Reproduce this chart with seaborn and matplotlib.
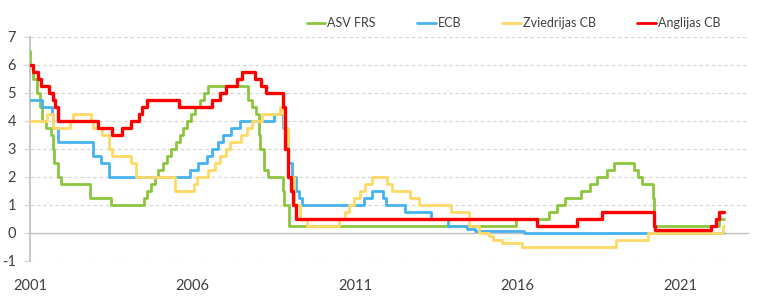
import matplotlib
matplotlib.use("Agg")
import matplotlib.pyplot as plt
import matplotlib.dates as mdates
from matplotlib.lines import Line2D
import seaborn as sns
import pandas as pd

# ---------------- data ----------------
end_date = "2022-05-03"

fed_dates = ["2001-01-01", "2001-01-03", "2001-01-31", "2001-03-20", "2001-04-18", "2001-05-15",
             "2001-06-27", "2001-08-21", "2001-09-17", "2001-10-02", "2001-11-06", "2001-12-11",
             "2002-11-06", "2003-06-25", "2004-06-30", "2004-08-10", "2004-09-21", "2004-11-10",
             "2004-12-14", "2005-02-02", "2005-03-22", "2005-05-03", "2005-06-30", "2005-08-09",
             "2005-09-20", "2005-11-01", "2005-12-13", "2006-01-31", "2006-03-28", "2006-05-10",
             "2006-06-29", "2007-09-18", "2007-10-31", "2007-12-11", "2008-01-22", "2008-01-30",
             "2008-03-18", "2008-04-30", "2008-10-08", "2008-10-29", "2008-12-16", "2015-12-16",
             "2016-12-14", "2017-03-15", "2017-06-14", "2017-12-13", "2018-03-21", "2018-06-13",
             "2018-09-26", "2018-12-19", "2019-07-31", "2019-09-18", "2019-10-30", "2020-03-03",
             "2020-03-15", "2022-03-16"]
fed_rates = [6.5, 6.0, 5.5, 5.0, 4.5, 4.0, 3.75, 3.5, 3.0, 2.5, 2.0, 1.75,
             1.25, 1.0, 1.25, 1.5, 1.75, 2.0, 2.25, 2.5, 2.75, 3.0, 3.25, 3.5,
             3.75, 4.0, 4.25, 4.5, 4.75, 5.0, 5.25, 4.75, 4.5, 4.25, 3.5, 3.0,
             2.25, 2.0, 1.5, 1.0, 0.25, 0.5, 0.75, 1.0, 1.25, 1.5, 1.75, 2.0,
             2.25, 2.5, 2.25, 2.0, 1.75, 1.25, 0.25, 0.5]

ecb_dates = ["2001-01-01", "2001-05-11", "2001-08-31", "2001-09-18", "2001-11-09", "2002-12-06",
             "2003-03-07", "2003-06-06", "2005-12-06", "2006-03-08", "2006-06-15", "2006-08-09",
             "2006-10-11", "2006-12-13", "2007-03-14", "2007-06-13", "2008-07-09", "2008-10-15",
             "2008-11-12", "2008-12-10", "2009-01-21", "2009-03-11", "2009-04-08", "2009-05-13",
             "2011-04-13", "2011-07-13", "2011-11-09", "2011-12-14", "2012-07-11", "2013-05-08",
             "2013-11-13", "2014-06-11", "2014-09-10", "2016-03-16"]
ecb_rates = [4.75, 4.5, 4.25, 3.75, 3.25, 2.75, 2.5, 2.0, 2.25, 2.5, 2.75, 3.0,
             3.25, 3.5, 3.75, 4.0, 4.25, 3.75, 3.25, 2.5, 2.0, 1.5, 1.25, 1.0,
             1.25, 1.5, 1.25, 1.0, 0.75, 0.5, 0.25, 0.15, 0.05, 0.0]

rb_dates = ["2001-01-01", "2001-07-11", "2001-09-19", "2002-03-25", "2002-04-30", "2002-11-20",
            "2002-12-11", "2003-03-19", "2003-06-11", "2003-07-09", "2004-02-11", "2004-04-07",
            "2005-06-22", "2006-01-20", "2006-02-24", "2006-06-28", "2006-09-06", "2006-10-31",
            "2007-01-17", "2007-02-21", "2007-06-27", "2007-09-07", "2007-10-31", "2008-02-20",
            "2008-09-10", "2008-10-08", "2008-10-29", "2008-12-10", "2009-02-16", "2009-04-27",
            "2009-07-08", "2010-07-07", "2010-09-07", "2010-10-27", "2010-12-21", "2011-02-22",
            "2011-04-27", "2011-07-06", "2011-12-21", "2012-02-21", "2012-09-12", "2012-12-19",
            "2013-12-18", "2014-07-09", "2014-10-29", "2015-02-18", "2015-03-25", "2015-07-08",
            "2016-02-17", "2019-01-09", "2020-01-08", "2022-04-28"]
rb_rates = [4.0, 4.25, 3.75, 4.0, 4.25, 4.0, 3.75, 3.5, 3.0, 2.75, 2.5, 2.0,
            1.5, 1.75, 2.0, 2.25, 2.5, 2.75, 3.0, 3.25, 3.5, 3.75, 4.0, 4.25,
            4.5, 4.25, 3.75, 2.0, 1.0, 0.5, 0.25, 0.5, 0.75, 1.0, 1.25, 1.5,
            1.75, 2.0, 1.75, 1.5, 1.25, 1.0, 0.75, 0.25, 0.0, -0.1, -0.25, -0.35,
            -0.5, -0.25, 0.0, 0.25]

boe_dates = ["2001-01-01", "2001-02-08", "2001-04-05", "2001-05-10", "2001-08-02", "2001-09-18",
             "2001-10-04", "2001-11-08", "2003-02-06", "2003-07-10", "2003-11-06", "2004-02-05",
             "2004-05-06", "2004-06-10", "2004-08-05", "2005-08-04", "2006-08-03", "2006-11-09",
             "2007-01-11", "2007-05-10", "2007-07-05", "2007-12-06", "2008-02-07", "2008-04-10",
             "2008-10-08", "2008-11-06", "2008-12-04", "2009-01-08", "2009-02-05", "2009-03-05",
             "2016-08-04", "2017-11-02", "2018-08-02", "2020-03-11", "2020-03-19", "2021-12-16",
             "2022-02-03", "2022-03-17"]
boe_rates = [6.0, 5.75, 5.5, 5.25, 5.0, 4.75, 4.5, 4.0, 3.75, 3.5, 3.75, 4.0,
             4.25, 4.5, 4.75, 4.5, 4.75, 5.0, 5.25, 5.5, 5.75, 5.5, 5.25, 5.0,
             4.5, 3.0, 2.0, 1.5, 1.0, 0.5, 0.25, 0.5, 0.75, 0.25, 0.1, 0.25,
             0.5, 0.75]

series_names = ["ASV FRS", "ECB", "Zviedrijas CB", "Anglijas CB"]
year_ticks = ["2001", "2006", "2011", "2016", "2021"]
y_ticks = [-1, 0, 1, 2, 3, 4, 5, 6, 7]

# ---------------- build frame ----------------
frames = []
for name, d, r in zip(series_names,
                      [fed_dates, ecb_dates, rb_dates, boe_dates],
                      [fed_rates, ecb_rates, rb_rates, boe_rates]):
    dd = list(d) + [end_date]
    rr = list(r) + [r[-1]]
    frames.append(pd.DataFrame({"date": pd.to_datetime(dd), "rate": rr, "bank": name}))
df = pd.concat(frames, ignore_index=True)

colors = {"ASV FRS": "#8CC63F", "ECB": "#45B3EE", "Zviedrijas CB": "#FFD966", "Anglijas CB": "#FF0000"}
widths = {"ASV FRS": 2.0, "ECB": 2.0, "Zviedrijas CB": 2.0, "Anglijas CB": 2.4}

# ---------------- plot ----------------
sns.set_theme(style="white")
plt.rcParams["font.family"] = ["Lato", "DejaVu Sans"]
plt.rcParams["axes.unicode_minus"] = False

fig = plt.figure(figsize=(7.64, 3.06), dpi=100)
ax = fig.add_axes([30 / 764, 1 - 260.7 / 306, (748 - 30) / 764, (260.7 - 36.7) / 306])

for y in y_ticks:
    if y != 0:
        ax.axhline(y, color="#d9d9d9", lw=0.9, ls=(0, (3, 2)), zorder=0)

for name in series_names:
    sub = df[df["bank"] == name]
    sns.lineplot(data=sub, x="date", y="rate", ax=ax, color=colors[name],
                 lw=widths[name], drawstyle="steps-post", legend=False, zorder=3)

ax.set_xlim(pd.Timestamp("2001-01-01"), pd.Timestamp("2023-02-01"))
ax.set_ylim(-1, 7)
ax.set_yticks(y_ticks)
ax.set_yticklabels([str(v) for v in y_ticks])
ax.set_xticks([pd.Timestamp(f"{y}-01-01") for y in year_ticks])
ax.set_xticklabels(year_ticks)
ax.set_xlabel("")
ax.set_ylabel("")

for s in ["top", "right"]:
    ax.spines[s].set_visible(False)
ax.spines["left"].set_color("#bfbfbf")
ax.spines["left"].set_linewidth(1.2)
ax.spines["bottom"].set_position(("data", 0))
ax.spines["bottom"].set_color("#bfbfbf")
ax.spines["bottom"].set_linewidth(1.0)
ax.spines["bottom"].set_zorder(1)

ax.tick_params(axis="x", direction="out", length=4, width=1, color="#bfbfbf",
               pad=29, labelsize=10.5, labelcolor="#404040")
ax.tick_params(axis="y", direction="out", length=4, width=1, color="#d9d9d9",
               pad=6, labelsize=10.5, labelcolor="#404040", left=True)

handles = [Line2D([0], [0], color=colors[n], lw=2.0) for n in series_names]
fig.legend(handles, series_names, loc="center", bbox_to_anchor=(0.672, 0.925), ncol=4,
           frameon=False, fontsize=9, handlelength=1.5, handletextpad=0.15,
           columnspacing=3.3, labelcolor="#404040")

fig.savefig("out.png", dpi=100)
